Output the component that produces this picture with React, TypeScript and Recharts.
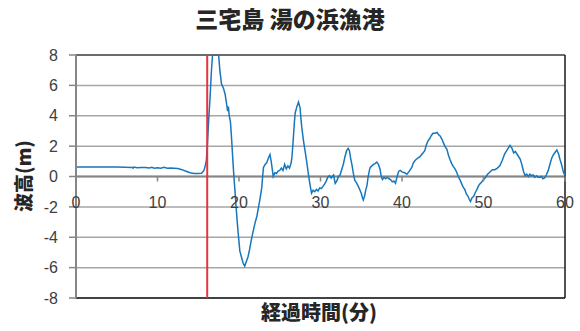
import {
  LineChart, Line, XAxis, YAxis, CartesianGrid,
  ReferenceLine, ReferenceDot,
} from "recharts";

// [minutes, wave height (m)]
const calmPhase: [number, number][] = [
  [0, 0.62], [1, 0.62], [2, 0.62], [3, 0.62], [4, 0.62], [5, 0.62], [6, 0.61],
  [6.9, 0.6], [7.0, 0.55], [7.1, 0.62], [7.5, 0.58], [8, 0.6], [8.5, 0.6],
  [9, 0.56], [9.3, 0.6], [9.6, 0.54], [10, 0.58], [10.4, 0.55], [10.8, 0.6],
  [11.2, 0.55], [11.6, 0.56], [12, 0.54], [12.5, 0.52], [13, 0.45], [13.5, 0.35],
  [14, 0.25], [14.5, 0.2], [15, 0.2], [15.4, 0.22], [15.7, 0.4], [15.9, 0.8],
];

const firstWave: [number, number][] = [
  [16.0, 1.1], [16.15, 2.4], [16.3, 3.9], [16.45, 5.2], [16.6, 6.8], [16.75, 8],
  [17.0, 8], [17.3, 8], [17.5, 8], [17.65, 7.0], [17.85, 6.1], [18.1, 5.8],
  [18.3, 5.4], [18.5, 4.7], [18.6, 4.3], [18.7, 4.6], [18.8, 4.0], [18.95, 3.6],
  [19.1, 2.4], [19.2, 1.5], [19.3, 0.6], [19.4, -0.2], [19.5, -0.9], [19.6, -1.7],
  [19.7, -2.4], [19.8, -3.1], [19.9, -3.75], [20.0, -4.3], [20.1, -4.9], [20.3, -5.3],
  [20.5, -5.7], [20.7, -5.9], [20.9, -5.6], [21.1, -5.3], [21.3, -4.8], [21.5, -4.2],
  [21.7, -3.7], [21.95, -3.1], [22.2, -2.6], [22.4, -2.0], [22.6, -1.4], [22.8, -0.7],
  [22.9, 0.0], [23.0, 0.6], [23.2, 0.8], [23.4, 0.9], [23.6, 1.2], [23.8, 1.45],
  [23.95, 1.0], [24.1, 0.4], [24.2, 0.0], [24.4, 0.25], [24.6, 0.2], [24.8, 0.35],
  [25.0, 0.4], [25.2, 0.55], [25.4, 0.4], [25.6, 0.8], [25.8, 0.5], [26.0, 0.7],
  [26.2, 0.55], [26.4, 0.9], [26.5, 1.3], [26.6, 2.0], [26.7, 2.8], [26.8, 3.6],
  [26.9, 4.2], [27.1, 4.6], [27.3, 4.9], [27.5, 4.5], [27.6, 3.8], [27.7, 3.25],
  [27.9, 2.4], [28.1, 1.7], [28.3, 1.0], [28.5, 0.2], [28.7, -0.5], [28.9, -1.1],
];

const laterWaves: [number, number][] = [
  [29.1, -0.9], [29.3, -1.0], [29.5, -0.85], [29.7, -0.95], [29.9, -0.75], [30.1, -0.8],
  [30.3, -0.65], [30.5, -0.5], [30.7, -0.3], [30.9, -0.05], [31.1, 0.05], [31.3, -0.1],
  [31.6, 0.1], [31.8, -0.45], [32.0, -0.3], [32.2, 0.0], [32.4, 0.1], [32.6, 0.45],
  [32.8, 0.8], [33.0, 1.3], [33.2, 1.7], [33.4, 1.85], [33.55, 1.7], [33.7, 1.2],
  [33.85, 0.8], [34.0, 0.3], [34.2, -0.25], [34.4, -0.4], [34.6, -0.6], [34.85, -0.9],
  [35.0, -1.1], [35.15, -1.4], [35.25, -1.55], [35.4, -1.3], [35.55, -0.9], [35.7, -0.6],
  [35.85, 0.0], [36.0, 0.4], [36.1, 0.6], [36.3, 0.7], [36.5, 0.8], [36.7, 0.85],
  [36.9, 0.95], [37.1, 0.8], [37.3, 0.5], [37.45, 0.0], [37.6, -0.2], [37.8, -0.05],
  [38.0, -0.15], [38.2, -0.05], [38.4, -0.15], [38.6, -0.2], [38.8, -0.35], [39.0, -0.3],
  [39.2, -0.45], [39.4, 0.0], [39.6, 0.35], [39.8, 0.4], [40.0, 0.3], [40.3, 0.25],
  [40.6, 0.15], [40.9, 0.35], [41.2, 0.6], [41.4, 0.9], [41.6, 1.05], [41.9, 1.2],
  [42.2, 1.3], [42.5, 1.5], [42.8, 1.7], [43.0, 2.1], [43.2, 2.35], [43.4, 2.5],
  [43.6, 2.7], [43.8, 2.85], [44.05, 2.85], [44.3, 2.9], [44.5, 2.75], [44.7, 2.65],
  [44.9, 2.45], [45.1, 2.2], [45.3, 1.95], [45.5, 1.8], [45.7, 1.4], [45.9, 1.1],
  [46.1, 0.85], [46.3, 0.65], [46.5, 0.5], [46.7, 0.3], [46.9, 0.0], [47.1, -0.2],
  [47.3, -0.45], [47.5, -0.7], [47.7, -0.85], [47.9, -1.15], [48.1, -1.3], [48.25, -1.5],
  [48.4, -1.65], [48.6, -1.4], [48.8, -1.3], [48.95, -1.1], [49.2, -0.85], [49.4, -0.6],
  [49.55, -0.5], [49.8, -0.35], [50.0, -0.2], [50.2, -0.1], [50.5, 0.15], [50.8, 0.3],
  [51.1, 0.45], [51.4, 0.45], [51.7, 0.55], [52.0, 0.7], [52.3, 1.05], [52.6, 1.5],
  [52.9, 1.75], [53.25, 2.05], [53.5, 1.85], [53.7, 1.55], [53.9, 1.65], [54.2, 1.4],
  [54.5, 1.15], [54.7, 0.8], [54.9, 0.35], [55.1, 0.05], [55.3, 0.15], [55.5, 0.0],
  [55.7, 0.15], [55.9, 0.05], [56.1, 0.1], [56.3, -0.05], [56.5, 0.05], [56.7, -0.05],
  [56.9, -0.05], [57.1, 0.0], [57.3, -0.15], [57.5, -0.1], [57.7, 0.1], [57.95, 0.4],
  [58.2, 0.9], [58.4, 1.25], [58.6, 1.45], [58.8, 1.6], [59.0, 1.75], [59.2, 1.5],
  [59.4, 1.1], [59.6, 0.75], [59.8, 0.3], [60.0, 0.05],
];

const xTicks = [0, 10, 20, 30, 40, 50, 60];
const yTicks = [-8, -6, -4, -2, 0, 2, 4, 6, 8];
const arrivalMinute = 16.1;

const data = [...calmPhase, ...firstWave, ...laterWaves].map(([t, h]) => ({ t, h }));

const TICK_FONT = "'Liberation Sans', Arial, sans-serif";
const JP_FONT = "'Noto Sans CJK JP', sans-serif";

// x tick drawn on the zero line, like Excel's axis crossing at 0
function ZeroTick({ cx, cy, value }: { cx?: number; cy?: number; value: number }) {
  if (cx == null || cy == null) return null;
  return (
    <g>
      <line x1={cx} x2={cx} y1={cy} y2={cy + 5} stroke="#868686" strokeWidth={1.5} />
      <text x={cx} y={cy + 31} textAnchor="middle" fontSize={16} fill="#404040" fontFamily={TICK_FONT}>
        {value}
      </text>
    </g>
  );
}

const labelStyle = {
  position: "absolute" as const, fontFamily: JP_FONT, fontWeight: 900,
  color: "#262626", whiteSpace: "nowrap" as const, lineHeight: 1,
};

export default function App() {
  return (
    <div style={{ position: "absolute", left: 0, top: 0, width: 580, height: 331, background: "#fff" }}>
      <div style={{ ...labelStyle, left: 290, top: 18, fontSize: 23, transform: "translate(-50%, -50%)" }}>
        三宅島 湯の浜漁港
      </div>
      <div style={{ ...labelStyle, left: 22, top: 176, fontSize: 19, transform: "translate(-50%, -50%) rotate(-90deg)" }}>
        波高(m)
      </div>
      <div style={{ ...labelStyle, left: 319, top: 312, fontSize: 20, transform: "translate(-50%, -50%)" }}>
        経過時間(分)
      </div>
      <LineChart width={580} height={331} data={data}
        margin={{ top: 55, right: 15, left: 0, bottom: 33 }}
        style={{ position: "absolute", left: 0, top: 0 }}>
        <CartesianGrid horizontal vertical={false} stroke="#a6a6a6" strokeWidth={1.5} />
        <XAxis dataKey="t" type="number" domain={[0, 60]} ticks={xTicks} hide />
        <YAxis type="number" domain={[-8, 8]} ticks={yTicks} width={76}
          allowDataOverflow interval={0}
          axisLine={{ stroke: "#868686", strokeWidth: 2 }}
          tickLine={{ stroke: "#868686", strokeWidth: 1.5 }}
          tickSize={7} tickMargin={11}
          tick={{ fontSize: 16, fill: "#404040", fontFamily: TICK_FONT }} />
        <ReferenceLine y={0} stroke="#858585" strokeWidth={2} />
        <ReferenceLine y={8} stroke="#1a1a1a" strokeWidth={1.2} />
        <ReferenceLine y={-8} stroke="#1a1a1a" strokeWidth={1.5} />
        <ReferenceLine x={60} stroke="#1a1a1a" strokeWidth={1.5} />
        {xTicks.map((t) => (
          <ReferenceDot key={t} x={t} y={0} r={0}
            shape={(p: any) => <ZeroTick cx={p.cx} cy={p.cy} value={t} />} />
        ))}
        <Line type="linear" dataKey="h" stroke="#1677BD" strokeWidth={1.5}
          dot={false} isAnimationActive={false} />
        <ReferenceLine x={arrivalMinute} stroke="#E8323C" strokeWidth={2} />
      </LineChart>
    </div>
  );
}
